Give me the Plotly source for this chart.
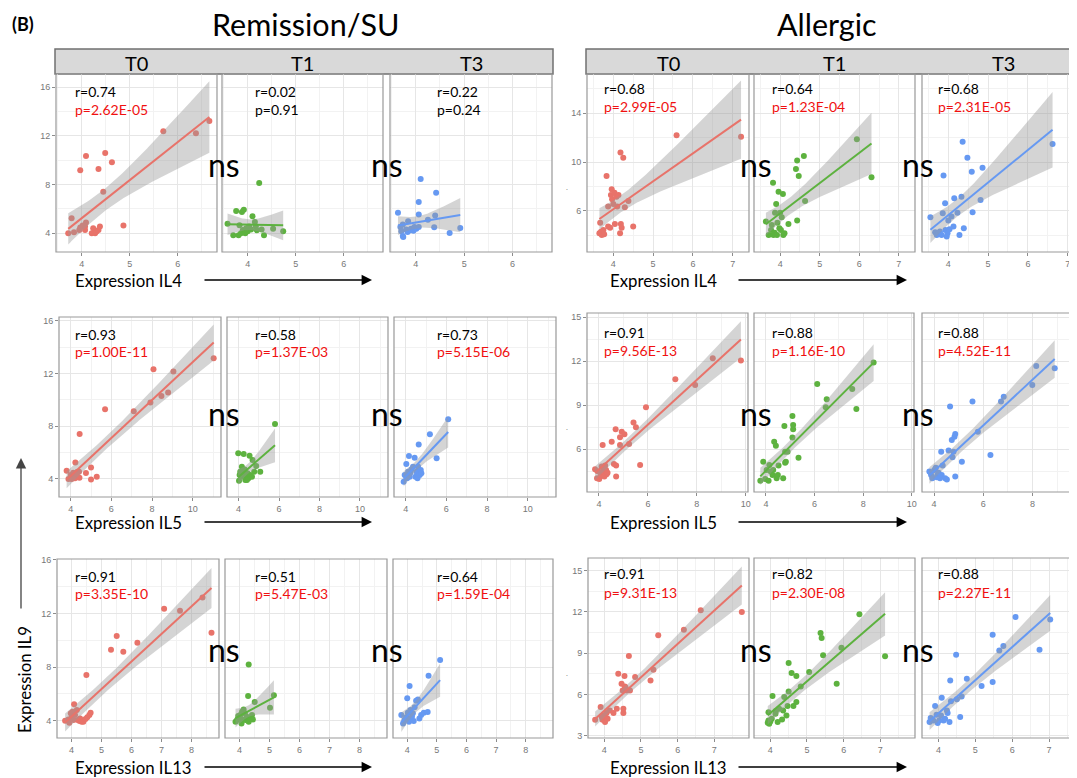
import numpy as np
import plotly.graph_objects as go

W, H = 1077, 778

# ---------------- data ----------------
# Remission/SU, IL4
rem_il4_t0_x = [3.72, 3.79, 3.84, 3.95, 3.97, 3.97, 4.02, 4.07, 4.07, 4.09, 4.09, 4.21, 4.24, 4.28, 4.31, 4.35, 4.35, 4.38, 4.45, 4.49, 4.63, 4.87, 5.70, 6.38, 6.66]
rem_il4_t0_y = [4.00, 5.23, 4.08, 4.27, 4.47, 9.18, 4.63, 4.55, 4.27, 4.88, 10.36, 4.00, 4.41, 4.00, 4.14, 4.27, 9.29, 4.55, 7.42, 10.60, 9.84, 4.63, 12.38, 12.22, 13.23]
rem_il4_t1_x = [3.58, 3.70, 3.76, 3.81, 3.83, 3.86, 3.88, 3.90, 3.92, 3.95, 3.97, 4.00, 4.03, 4.07, 4.10, 4.15, 4.17, 4.19, 4.24, 4.29, 4.34, 4.53, 4.74]
rem_il4_t1_y = [4.79, 3.84, 5.82, 3.84, 4.65, 4.00, 5.74, 4.27, 5.93, 4.00, 4.41, 4.17, 4.55, 4.30, 5.39, 4.93, 4.55, 4.24, 8.14, 4.30, 3.84, 4.38, 4.16]
rem_il4_t3_x = [3.63, 3.68, 3.70, 3.73, 3.73, 3.74, 3.80, 3.83, 3.84, 3.88, 3.90, 3.95, 3.97, 4.01, 4.06, 4.06, 4.06, 4.10, 4.25, 4.38, 4.40, 4.42, 4.70, 4.92]
rem_il4_t3_y = [5.69, 4.52, 4.16, 4.71, 3.78, 3.70, 4.30, 4.11, 4.98, 4.25, 4.38, 4.20, 4.52, 4.38, 4.52, 5.55, 6.56, 8.46, 5.12, 4.49, 5.47, 7.32, 4.03, 4.44]

# Remission/SU, IL5
rem_il5_t0_x = [3.80, 3.89, 4.00, 4.05, 4.10, 4.13, 4.21, 4.23, 4.30, 4.33, 4.41, 4.43, 4.44, 4.75, 5.00, 5.00, 5.28, 5.69, 7.10, 7.92, 8.07, 8.46, 8.79, 9.05, 11.03]
rem_il5_t0_y = [4.61, 3.97, 4.28, 3.97, 4.20, 4.46, 4.03, 5.24, 4.35, 4.53, 4.53, 4.08, 7.40, 4.43, 4.86, 3.95, 4.15, 9.28, 9.13, 9.79, 12.32, 10.29, 10.55, 12.15, 13.16]
rem_il5_t1_x = [3.98, 4.02, 4.05, 4.08, 4.13, 4.16, 4.21, 4.25, 4.30, 4.33, 4.38, 4.41, 4.44, 4.49, 4.54, 4.57, 4.66, 4.69, 4.77, 4.87, 5.07, 5.80]
rem_il5_t1_y = [5.93, 3.85, 4.28, 4.53, 4.15, 4.91, 4.28, 5.88, 4.71, 3.90, 4.15, 3.90, 4.41, 4.03, 5.75, 4.28, 4.15, 5.42, 4.53, 4.96, 4.53, 8.16]
rem_il5_t3_x = [3.90, 3.95, 4.03, 4.07, 4.12, 4.16, 4.20, 4.23, 4.28, 4.36, 4.44, 4.48, 4.53, 4.58, 4.61, 4.64, 4.69, 4.74, 4.77, 5.19, 5.52, 6.09]
rem_il5_t3_y = [3.77, 4.28, 5.12, 4.03, 4.53, 5.73, 4.15, 4.46, 4.71, 4.91, 5.60, 4.15, 4.53, 4.03, 4.91, 6.61, 4.28, 4.66, 4.41, 7.38, 5.55, 8.52]

# Remission/SU, IL13
rem_il13_t0_x = [3.79, 3.90, 3.93, 3.98, 4.01, 4.04, 4.07, 4.09, 4.12, 4.18, 4.21, 4.27, 4.29, 4.34, 4.40, 4.47, 4.50, 4.53, 4.60, 4.64, 5.32, 5.51, 5.73, 6.20, 7.09, 7.62, 8.37, 8.67]
rem_il13_t0_y = [4.00, 4.10, 3.85, 4.55, 4.30, 4.67, 4.05, 5.22, 4.42, 4.80, 4.05, 3.98, 4.17, 3.93, 3.93, 4.12, 7.41, 4.25, 4.42, 4.60, 9.30, 10.32, 9.15, 9.82, 12.36, 12.21, 13.20, 10.57]
rem_il13_t1_x = [3.87, 3.92, 3.96, 3.98, 4.03, 4.07, 4.09, 4.12, 4.14, 4.18, 4.20, 4.25, 4.29, 4.31, 4.31, 4.36, 4.42, 4.45, 4.51, 5.02, 5.15]
rem_il13_t1_y = [3.93, 4.05, 4.35, 4.17, 4.42, 3.80, 4.67, 4.10, 4.84, 4.55, 4.05, 4.30, 5.84, 8.20, 3.93, 4.17, 4.42, 4.10, 5.39, 4.97, 5.91]
rem_il13_t3_x = [3.80, 3.86, 3.91, 3.97, 4.00, 4.02, 4.06, 4.08, 4.11, 4.11, 4.16, 4.19, 4.22, 4.25, 4.30, 4.36, 4.41, 4.47, 4.56, 4.69, 4.72, 5.11]
rem_il13_t3_y = [4.42, 3.80, 4.05, 4.25, 5.67, 4.60, 3.93, 6.59, 4.80, 4.17, 4.30, 4.55, 3.98, 5.00, 5.49, 5.59, 4.17, 4.42, 4.60, 4.65, 7.36, 8.53]

# Allergic, IL4
all_il4_t0_x = [3.65, 3.67, 3.69, 3.71, 3.75, 3.77, 3.83, 3.87, 3.87, 3.92, 3.94, 3.96, 3.97, 4.00, 4.03, 4.04, 4.08, 4.10, 4.13, 4.17, 4.18, 4.19, 4.21, 4.25, 4.29, 4.38, 4.50, 5.59, 7.21]
all_il4_t0_y = [4.17, 5.04, 4.30, 4.03, 4.44, 4.09, 8.87, 6.36, 4.72, 4.63, 7.31, 7.78, 6.96, 6.57, 7.50, 4.93, 7.17, 6.36, 7.31, 4.17, 10.78, 4.93, 4.63, 10.37, 6.30, 6.82, 4.72, 12.20, 12.09]
all_il4_t1_x = [3.64, 3.71, 3.77, 3.79, 3.82, 3.83, 3.86, 3.87, 3.90, 3.92, 3.93, 3.96, 3.98, 4.00, 4.02, 4.04, 4.07, 4.08, 4.11, 4.21, 4.40, 4.43, 4.43, 4.47, 4.60, 4.63, 5.94, 6.31]
all_il4_t1_y = [5.13, 4.03, 4.44, 4.85, 8.32, 4.03, 4.22, 5.86, 6.57, 4.03, 5.04, 7.58, 4.58, 5.86, 4.44, 5.48, 7.39, 4.03, 4.17, 4.93, 9.44, 10.13, 5.21, 8.87, 10.51, 6.82, 11.87, 8.76]
all_il4_t3_x = [3.55, 3.67, 3.71, 3.75, 3.79, 3.83, 3.86, 3.88, 3.92, 3.93, 3.96, 3.98, 4.00, 4.03, 4.08, 4.13, 4.15, 4.23, 4.28, 4.33, 4.36, 4.39, 4.48, 4.59, 4.61, 4.81, 4.86, 6.62]
all_il4_t3_y = [5.48, 4.25, 4.03, 4.17, 4.31, 4.03, 5.81, 8.90, 6.63, 4.44, 3.90, 4.17, 5.21, 4.50, 5.54, 4.72, 7.04, 5.86, 4.03, 7.17, 11.68, 4.58, 10.37, 9.22, 5.89, 6.90, 9.55, 11.49]

# Allergic, IL5
all_il5_t0_x = [3.84, 3.92, 3.97, 4.01, 4.07, 4.11, 4.15, 4.15, 4.18, 4.22, 4.25, 4.29, 4.31, 4.35, 4.52, 4.61, 4.68, 4.70, 4.70, 4.86, 4.86, 4.93, 5.04, 5.23, 5.41, 5.51, 5.68, 5.92, 7.12, 7.93, 8.65, 9.80]
all_il5_t0_y = [4.64, 4.02, 4.48, 3.98, 4.18, 4.82, 6.30, 4.48, 4.48, 4.14, 4.89, 4.59, 4.30, 4.41, 6.52, 5.00, 7.36, 4.89, 4.14, 6.82, 6.30, 7.20, 7.02, 6.36, 7.82, 7.50, 4.93, 8.86, 10.77, 10.39, 12.20, 12.05]
all_il5_t1_x = [3.77, 3.89, 3.97, 4.03, 4.11, 4.14, 4.20, 4.27, 4.30, 4.34, 4.41, 4.44, 4.49, 4.52, 4.71, 4.76, 4.79, 4.79, 4.82, 4.89, 5.09, 5.09, 5.12, 5.12, 5.34, 6.11, 6.46, 6.50, 7.55, 7.72, 8.43]
all_il5_t1_y = [3.86, 5.16, 3.98, 4.59, 3.86, 4.93, 4.48, 4.25, 4.59, 6.52, 6.25, 4.02, 4.25, 4.89, 4.02, 7.59, 5.84, 5.09, 5.16, 5.84, 6.80, 8.27, 7.66, 7.36, 5.43, 10.45, 8.86, 9.41, 10.11, 8.75, 11.91]
all_il5_t3_x = [3.81, 3.86, 3.88, 3.93, 4.01, 4.07, 4.11, 4.14, 4.18, 4.24, 4.29, 4.31, 4.35, 4.45, 4.52, 4.59, 4.65, 4.72, 4.75, 4.79, 4.83, 4.86, 4.86, 5.13, 5.56, 5.78, 6.29, 6.72, 6.83, 7.99, 8.15, 8.90]
all_il5_t3_y = [4.48, 4.41, 4.25, 4.02, 4.59, 4.75, 4.09, 4.25, 4.41, 4.02, 5.84, 4.25, 4.89, 4.02, 3.95, 5.91, 8.91, 6.64, 5.45, 5.84, 6.86, 7.05, 4.14, 5.16, 9.25, 7.20, 5.61, 9.25, 9.59, 10.39, 11.68, 11.52]

# Allergic, IL13
all_il13_t0_x = [3.75, 3.90, 3.93, 3.95, 3.99, 4.02, 4.04, 4.06, 4.09, 4.15, 4.25, 4.34, 4.38, 4.47, 4.50, 4.52, 4.52, 4.55, 4.56, 4.58, 4.61, 4.67, 4.70, 4.84, 5.26, 5.34, 5.47, 6.17, 6.63, 7.75]
all_il13_t0_y = [4.16, 5.08, 4.35, 4.16, 4.47, 3.99, 4.30, 4.64, 4.23, 4.83, 4.64, 4.96, 7.50, 6.78, 6.29, 4.64, 4.96, 7.33, 6.58, 6.50, 6.29, 8.79, 6.29, 7.26, 7.02, 7.80, 10.30, 10.71, 12.12, 12.00]
all_il13_t1_x = [3.93, 3.95, 3.95, 3.97, 4.00, 4.04, 4.06, 4.14, 4.15, 4.20, 4.24, 4.32, 4.35, 4.38, 4.44, 4.47, 4.50, 4.50, 4.58, 4.63, 4.71, 4.71, 4.83, 5.06, 5.37, 5.40, 5.44, 5.81, 5.94, 6.43, 7.13]
all_il13_t1_y = [3.94, 4.11, 4.71, 3.86, 4.03, 4.23, 5.88, 4.59, 4.80, 3.99, 4.96, 4.18, 4.83, 5.81, 4.47, 5.15, 6.22, 8.28, 7.55, 5.15, 7.33, 5.44, 6.58, 7.63, 10.47, 10.10, 8.84, 6.78, 9.40, 11.83, 8.77]
all_il13_t3_x = [3.76, 3.79, 3.86, 3.91, 3.95, 3.98, 4.02, 4.07, 4.09, 4.14, 4.18, 4.23, 4.25, 4.30, 4.32, 4.34, 4.48, 4.50, 4.59, 4.63, 4.77, 5.17, 5.47, 5.47, 5.65, 5.76, 6.09, 6.74, 7.03]
all_il13_t3_y = [3.99, 4.28, 4.11, 5.15, 4.52, 3.92, 4.11, 4.47, 5.76, 4.11, 4.23, 4.83, 4.64, 3.99, 7.02, 5.51, 8.89, 5.64, 4.35, 5.85, 7.14, 6.61, 6.90, 10.34, 9.20, 9.52, 11.63, 9.25, 11.44]

timepoints = ["T0", "T1", "T3"]
genes = ["IL4", "IL5", "IL13"]
rem_r = [["0.74", "0.02", "0.22"], ["0.93", "0.58", "0.73"], ["0.91", "0.51", "0.64"]]
rem_p = [["2.62E-05", "0.91", "0.24"], ["1.00E-11", "1.37E-03", "5.15E-06"], ["3.35E-10", "5.47E-03", "1.59E-04"]]
all_r = [["0.68", "0.64", "0.68"], ["0.91", "0.88", "0.88"], ["0.91", "0.82", "0.88"]]
all_p = [["2.99E-05", "1.23E-04", "2.31E-05"], ["9.56E-13", "1.16E-10", "4.52E-11"], ["9.31E-13", "2.30E-08", "2.27E-11"]]

rem_data = [
    [(rem_il4_t0_x, rem_il4_t0_y), (rem_il4_t1_x, rem_il4_t1_y), (rem_il4_t3_x, rem_il4_t3_y)],
    [(rem_il5_t0_x, rem_il5_t0_y), (rem_il5_t1_x, rem_il5_t1_y), (rem_il5_t3_x, rem_il5_t3_y)],
    [(rem_il13_t0_x, rem_il13_t0_y), (rem_il13_t1_x, rem_il13_t1_y), (rem_il13_t3_x, rem_il13_t3_y)],
]
all_data = [
    [(all_il4_t0_x, all_il4_t0_y), (all_il4_t1_x, all_il4_t1_y), (all_il4_t3_x, all_il4_t3_y)],
    [(all_il5_t0_x, all_il5_t0_y), (all_il5_t1_x, all_il5_t1_y), (all_il5_t3_x, all_il5_t3_y)],
    [(all_il13_t0_x, all_il13_t0_y), (all_il13_t1_x, all_il13_t1_y), (all_il13_t3_x, all_il13_t3_y)],
]

# ---------------- layout constants (pixels of the target picture) ----------------
colors = ["#E8736A", "#5DB23F", "#6699F2"]
FONT = "Lato"
OFF = 8  # the page body margin pushes the figure 8px right/down

groups = {
    "rem": dict(
        data=rem_data, r=rem_r, p=rem_p,
        px=[[(56, 217), (222, 383), (390, 552)], [(59, 221), (227, 388), (394, 556)], [(57, 219), (225, 387), (393, 553)]],
        py=[(74, 252), (317, 497), (559, 738)],
        xr=[(3.465, 6.819), (3.425, 11.39), (3.52, 8.92)],
        yr=[(2.46, 17.09), (2.61, 16.30), (2.71, 16.07)],
        xt=[(4, 1), (4, 2), (4, 1)],
        yt=[(4, 4), (4, 4), (4, 4)],
        txt_x=[73, 253, 435], txt_y=[(92, 109), (334, 352), (576, 593)],
        ns_x=[224, 387], ns_y=[168, 417, 653],
        lab_x=73, arrow=(203, 372),
    ),
    "all": dict(
        data=all_data, r=all_r, p=all_p,
        px=[[(587, 749), (754, 915), (922, 1084)], [(587, 748), (754, 914), (922, 1084)], [(588, 749), (754, 915), (922, 1084)]],
        py=[(74, 252), (313, 492), (558, 738)],
        xr=[(3.339, 7.41), (3.51, 10.09), (3.555, 7.946)],
        yr=[(2.64, 17.22), (3.09, 15.29), (2.83, 15.92)],
        xt=[(4, 1), (4, 2), (4, 1)],
        yt=[(6, 4), (6, 3), (3, 3)],
        txt_x=[602, 770, 936], txt_y=[(89, 107), (332, 350), (573, 592)],
        ns_x=[756, 918], ns_y=[168, 417, 653],
        lab_x=608, arrow=(737, 907),
    ),
}
label_y = [280, 522, 767]


def fx(p):
    return (p - OFF) / W


def fy(p):
    return 1 - (p - OFF) / H


def fit_band(x, y, n_grid=80):
    x = np.asarray(x, float)
    y = np.asarray(y, float)
    n = len(x)
    b1, b0 = np.polyfit(x, y, 1)
    xs = np.linspace(x.min(), x.max(), n_grid)
    yh = b0 + b1 * xs
    s = np.sqrt(np.sum((y - (b0 + b1 * x)) ** 2) / (n - 2))
    sxx = np.sum((x - x.mean()) ** 2)
    se = s * np.sqrt(1 / n + (xs - x.mean()) ** 2 / sxx)
    t = 1.96 + 2.4 / (n - 2)  # ~ t(0.975, n-2)
    return xs, yh, yh - t * se, yh + t * se


def note(x, y, text, size, color="black", xanchor="center", **kw):
    d = dict(x=fx(x), y=fy(y), xref="paper", yref="paper", xanchor=xanchor, yanchor="middle",
             showarrow=False, text=text, font=dict(family=FONT, size=size, color=color))
    d.update(kw)
    return d


fig = go.Figure()
layout = dict(
    width=W, height=H, margin=dict(l=0, r=0, t=0, b=0, autoexpand=False),
    paper_bgcolor="white", plot_bgcolor="white", showlegend=False,
)
shapes = []
annotations = []

k = 0
for gname, g in groups.items():
    for row in range(3):
        for col in range(3):
            k += 1
            xs_id = "x" if k == 1 else f"x{k}"
            ys_id = "y" if k == 1 else f"y{k}"
            L, R = g["px"][row][col]
            T, B = g["py"][row]
            x0, x1 = g["xr"][row]
            xt0, xdt = g["xt"][row]
            yt0, ydt = g["yt"][row]
            layout["xaxis" if k == 1 else f"xaxis{k}"] = dict(
                domain=[fx(L), min(fx(R), 1.0)], range=[x0, x1], anchor=ys_id, automargin=False,
                tick0=xt0, dtick=xdt, ticks="outside", ticklen=3, tickwidth=1, tickcolor="#8C8C8C",
                tickfont=dict(family="Liberation Sans", size=9, color="#777777"),
                showgrid=True, gridcolor="#E6E6E6", gridwidth=1, zeroline=False, showline=False,
                minor=dict(dtick=xdt / 2, tick0=xt0, showgrid=True, gridcolor="#F2F2F2", gridwidth=0.7),
            )
            layout["yaxis" if k == 1 else f"yaxis{k}"] = dict(
                domain=[fy(B), fy(T)], range=list(g["yr"][row]), anchor=xs_id, automargin=False,
                tick0=yt0, dtick=ydt, ticks="outside" if col == 0 else "", ticklen=3, tickwidth=1,
                tickcolor="#8C8C8C", showticklabels=(col == 0),
                tickfont=dict(family="Liberation Sans", size=9, color="#777777"),
                showgrid=True, gridcolor="#E6E6E6", gridwidth=1, zeroline=False, showline=False,
                minor=dict(dtick=ydt / 2, tick0=yt0, showgrid=True, gridcolor="#F2F2F2", gridwidth=0.7),
            )

            x, y = g["data"][row][col]
            c = colors[col]
            fig.add_trace(go.Scatter(x=x, y=y, mode="markers", xaxis=xs_id, yaxis=ys_id,
                                     marker=dict(color=c, size=6, line=dict(width=0))))
            gx, gy, lo, hi = fit_band(x, y)
            fig.add_trace(go.Scatter(x=np.concatenate([gx, gx[::-1]]), y=np.concatenate([hi, lo[::-1]]),
                                     mode="lines", fill="toself", fillcolor="rgba(153,153,153,0.42)",
                                     line=dict(width=0), xaxis=xs_id, yaxis=ys_id, hoverinfo="skip"))
            fig.add_trace(go.Scatter(x=gx, y=gy, mode="lines", line=dict(color=c, width=2),
                                     xaxis=xs_id, yaxis=ys_id))

            # panel border
            shapes.append(dict(type="rect", xref="paper", yref="paper",
                               x0=fx(L), x1=fx(R), y0=fy(B), y1=fy(T),
                               line=dict(color="#999999", width=1.2), fillcolor="rgba(0,0,0,0)"))

            # r / p text
            tx = g["txt_x"][col]
            ry, pyy = g["txt_y"][row]
            pval = g["p"][row][col]
            annotations.append(note(tx, ry, "r=" + g["r"][row][col], 14, xanchor="left"))
            annotations.append(note(tx, pyy, "p=" + pval, 14, xanchor="left",
                                    color="#F01010" if float(pval) < 0.05 else "black"))

        # "ns" between panels
        for nx in g["ns_x"]:
            annotations.append(note(nx, g["ns_y"][row] - 4, "ns", 32))
        # x axis label + arrow
        annotations.append(note(g["lab_x"], label_y[row], "Expression " + genes[row], 16.8, xanchor="left"))
        a0, a1 = g["arrow"]
        annotations.append(dict(x=fx(a1), y=fy(label_y[row]), xref="paper", yref="paper", text="",
                                showarrow=True, ax=a0 - a1, ay=0, axref="pixel", ayref="pixel",
                                arrowhead=2, arrowsize=1.6, arrowwidth=1.3, arrowcolor="black"))

    # strip across the group
    s_left = g["px"][0][0][0] - 1
    s_right = g["px"][0][2][1] + 1
    shapes.append(dict(type="rect", xref="paper", yref="paper", x0=fx(s_left), x1=fx(s_right),
                       y0=fy(74), y1=fy(49), fillcolor="#D9D9D9", line=dict(color="#707070", width=1.5),
                       layer="below"))
    for col in range(3):
        L, R = g["px"][0][col]
        annotations.append(note((L + R) / 2, 63, timepoints[col], 20))

# group titles
annotations.append(note(305, 24, "Remission/SU", 30.5))
annotations.append(note(827, 24, "Allergic", 30.5))
annotations.append(note(10, 24, "<b>(B)</b>", 18, xanchor="left"))

# y label + arrow
annotations.append(note(24, 680, "Expression IL9", 16.8, textangle=-90))
annotations.append(dict(x=fx(21), y=fy(458), xref="paper", yref="paper", text="", showarrow=True,
                        ax=0, ay=152, axref="pixel", ayref="pixel", arrowhead=2, arrowsize=1.6,
                        arrowwidth=1.3, arrowcolor="#444444"))

# stray dots left of the Allergic panels
for dy in [187, 427, 673]:
    annotations.append(note(567, dy, ".", 8, color="#888888"))

layout["shapes"] = shapes
layout["annotations"] = annotations
fig.update_layout(**layout)

fig.write_html("out.html")
